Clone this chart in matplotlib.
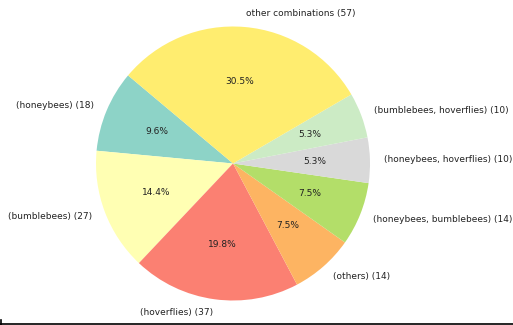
import numpy as np
import matplotlib
matplotlib.use("Agg")
import matplotlib.pyplot as plt
from matplotlib.lines import Line2D

groups = ["(honeybees)", "(bumblebees)", "(hoverflies)", "(others)",
          "(honeybees, bumblebees)", "(honeybees, hoverflies)",
          "(bumblebees, hoverflies)", "other combinations"]
counts = [18, 27, 37, 14, 14, 10, 10, 57]

labels = ["%s (%d)" % (g, c) for g, c in zip(groups, counts)]
colors = plt.cm.Set3(np.linspace(0, 1, len(counts)))

fig = plt.figure(figsize=(5.13, 3.25), dpi=100)
ax = fig.add_axes([96/513, 24.5/325, 274/513, 274/325])

ax.pie(counts, labels=labels, colors=colors, autopct="%1.1f%%",
       startangle=140, textprops={"fontsize": 6.5, "color": "#222222"})
ax.set_xlim(-1, 1)
ax.set_ylim(-1, 1)

# bottom border line as in the screenshot
fig.add_artist(Line2D([0, 1], [1.5/325, 1.5/325], color="black", lw=1.2))
fig.add_artist(Line2D([0.8/513, 0.8/513], [0, 5/325], color="black", lw=1.2))

fig.savefig("out.png", dpi=100)
